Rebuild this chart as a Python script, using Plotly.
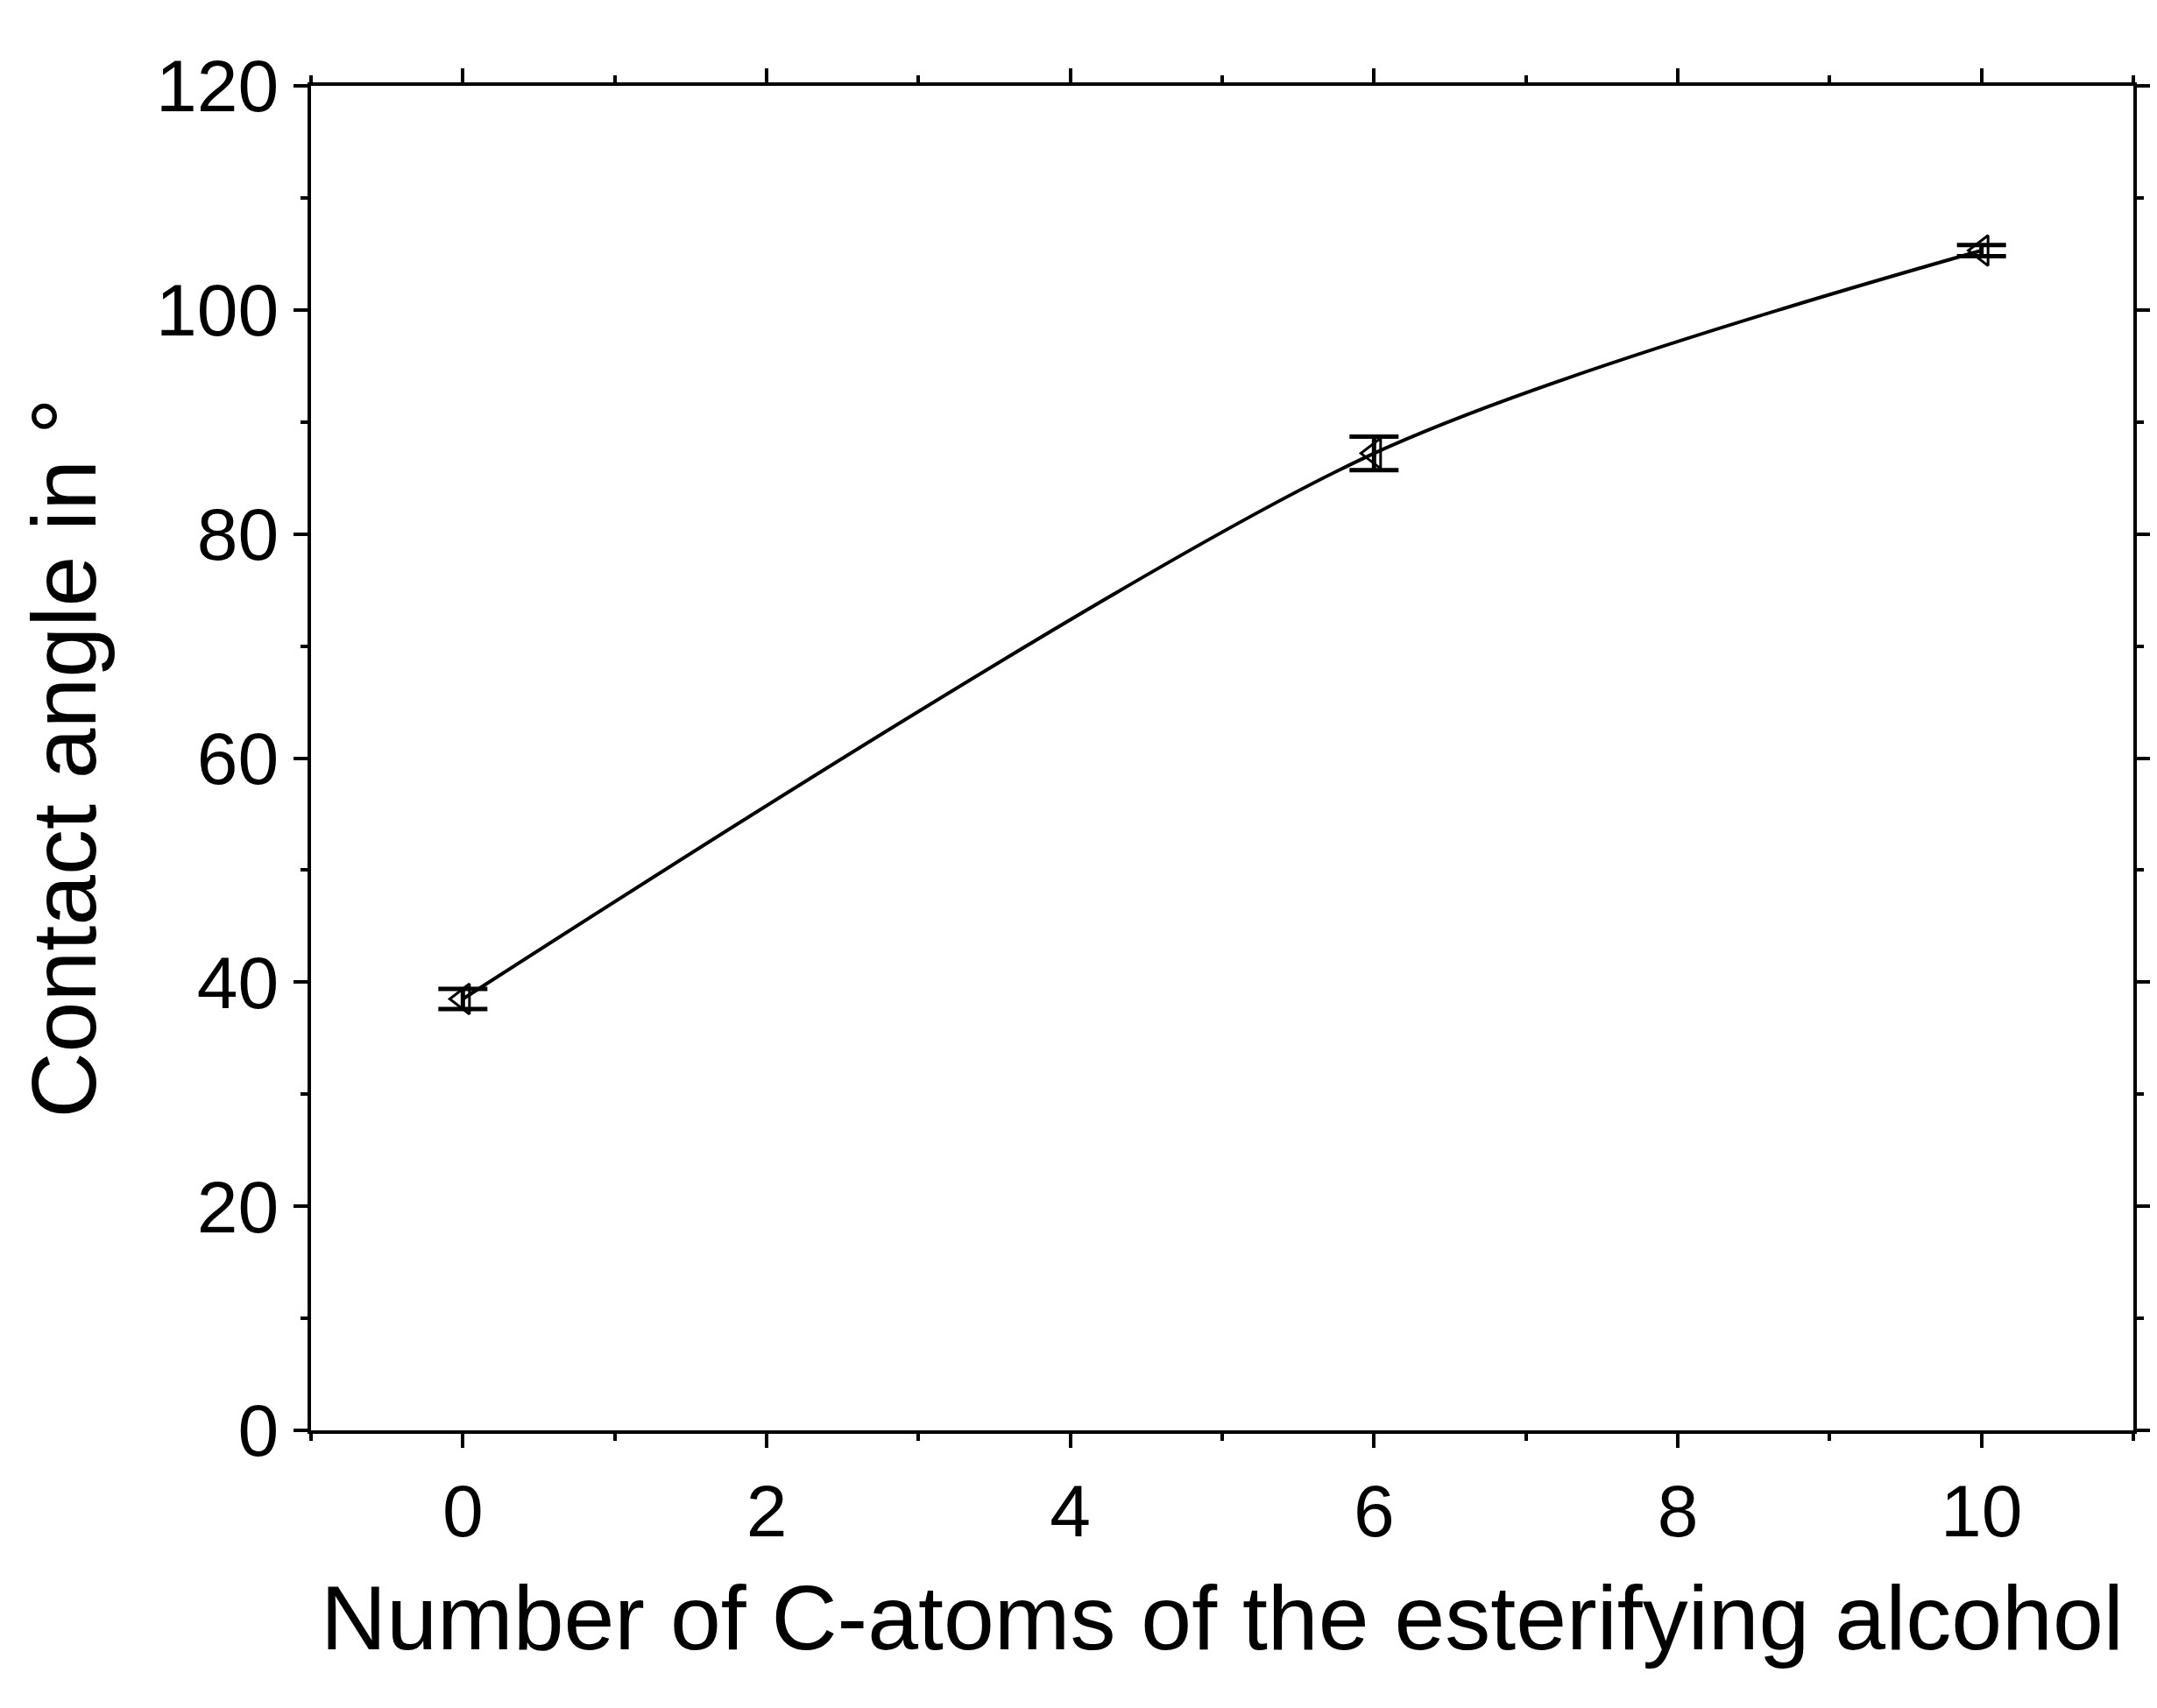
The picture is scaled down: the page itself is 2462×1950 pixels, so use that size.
import plotly.graph_objects as go

carbon_atoms = [0, 6, 10]
contact_angle = [38.5, 87.2, 105.3]
angle_error = [0.9, 1.5, 0.5]

fig = go.Figure()
fig.add_trace(go.Scatter(
    x=carbon_atoms, y=contact_angle, mode="lines+markers",
    line=dict(color="black", width=4, shape="spline", smoothing=0.8),
    marker=dict(symbol="triangle-left-open", size=30, color="black", line=dict(width=3)),
    error_y=dict(type="data", array=angle_error, color="black", thickness=5, width=28),
    showlegend=False))

axis_common = dict(showline=True, linecolor="black", linewidth=4, mirror="allticks",
                   ticks="outside", ticklen=16, tickwidth=3.5, tickcolor="black",
                   showgrid=False, zeroline=False,
                   tickfont=dict(family="Liberation Sans, Arial", size=84, color="black"),
                   minor=dict(ticks="outside", ticklen=8, tickwidth=3.5, tickcolor="black"))
fig.update_xaxes(range=[-1, 11], tickvals=[0, 2, 4, 6, 8, 10],
                 minor_dtick=1, **axis_common)
fig.update_yaxes(range=[0, 120], dtick=20, minor_dtick=10, **axis_common)
fig.update_xaxes(title=dict(text="Number of C-atoms of the esterifying alcohol",
                            font=dict(family="Liberation Sans, Arial", size=104, color="black"),
                            standoff=40))
fig.update_yaxes(title=dict(text="Contact angle in °",
                            font=dict(family="Liberation Sans, Arial", size=104, color="black"),
                            standoff=35))

fig.update_layout(width=2462, height=1950, plot_bgcolor="white", paper_bgcolor="white",
                  margin=dict(l=347, r=35, t=90, b=325))
fig.write_html("out.html")
